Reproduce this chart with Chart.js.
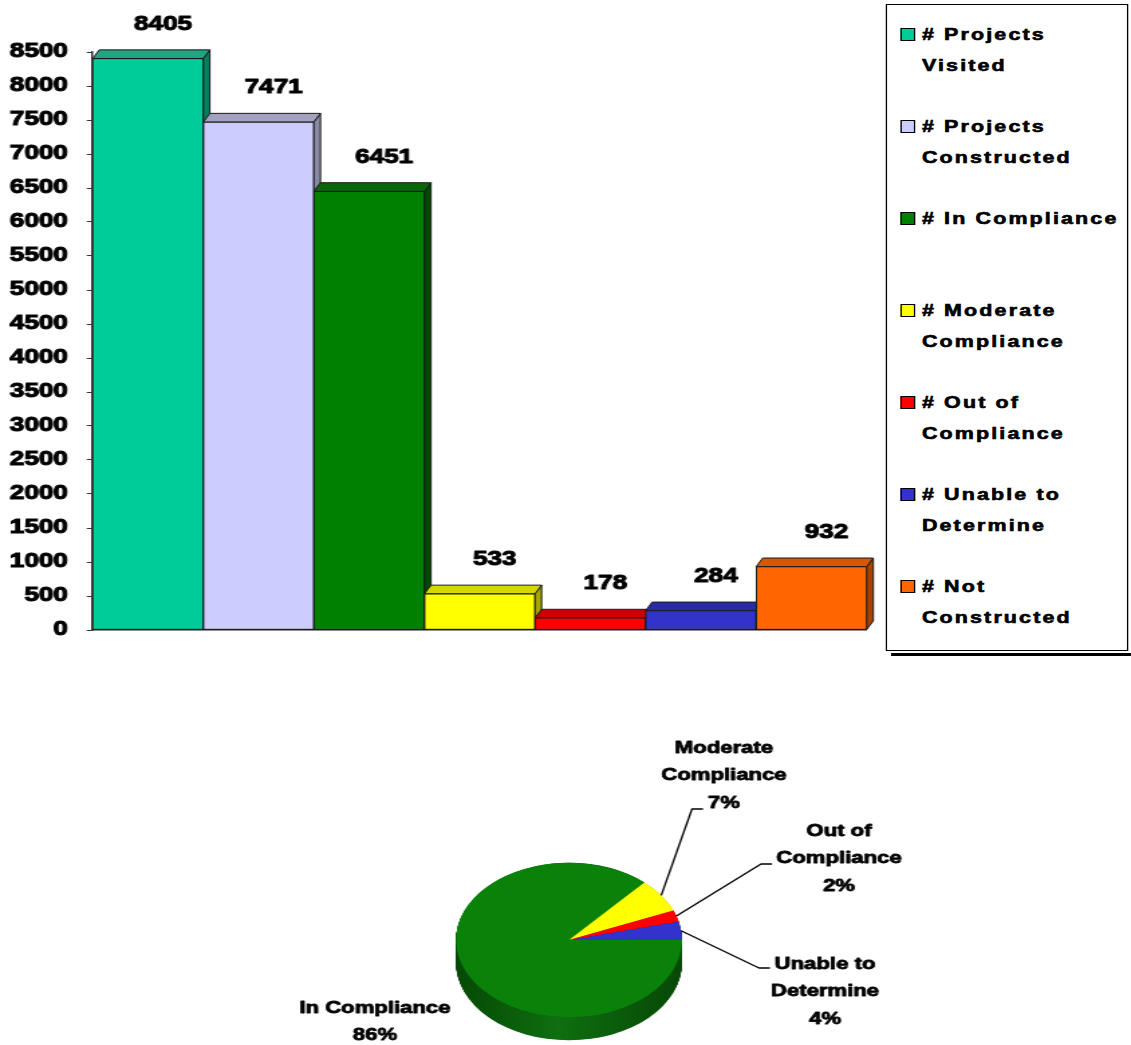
<!DOCTYPE html>
<html>
<head>
<meta charset="utf-8">
<script src="https://cdn.jsdelivr.net/npm/chart.js@4.4.1/dist/chart.umd.min.js"></script>
<style>
  html, body { margin: 0; padding: 0; background: #fff; overflow: hidden; }
  #page { position: absolute; left: 0; top: 0; width: 844px; height: 1045px; transform: scaleX(1.34); transform-origin: 0 0; }
  #bar { position: absolute; left: 0; top: 0; }
  #pie { position: absolute; left: 0; top: 680px; }
  #legend { position: absolute; left: 661px; top: 4px; width: 181px; height: 647px; border: 1px solid #000; box-sizing: border-box;
            font: bold 16px "Liberation Sans", Arial, sans-serif; letter-spacing: 1.6px; color: #000; background: #fff;
            -webkit-text-stroke: 0.6px #000; }
  #legendShadow { position: absolute; left: 665px; top: 653px; width: 179px; height: 3px; background: #000; }
  .item { position: absolute; left: 0; width: 179px; height: 62px; }
  .sw { position: absolute; left: 10px; top: 9px; width: 9px; height: 11px; border: 1px solid #000; -webkit-text-stroke: 0; }
  .txt { position: absolute; left: 26px; top: 0; width: 153px; line-height: 31px; white-space: normal; }
</style>
</head>
<body>
<div id="page">
  <canvas id="bar" width="660" height="660"></canvas>
  <div id="legendShadow"></div>
  <div id="legend"></div>
  <canvas id="pie" width="844" height="365"></canvas>
</div>
<script>
// ---------------- data ----------------
const categories = ['# Projects Visited', '# Projects Constructed', '# In Compliance', '# Moderate Compliance',
                    '# Out of Compliance', '# Unable to Determine', '# Not Constructed'];
const barValues = [8405, 7471, 6451, 533, 178, 284, 932];
const yTickValues = [0, 500, 1000, 1500, 2000, 2500, 3000, 3500, 4000, 4500, 5000, 5500, 6000, 6500, 7000, 7500, 8000, 8500];

const pieCategories = ['In Compliance', 'Moderate\nCompliance', 'Out of\nCompliance', 'Unable to\nDetermine'];
const pieValues = [6451, 533, 178, 284];
const percentBase = barValues[1]; // percentages are of # Projects Constructed

// ---------------- styles ----------------
const S = 1.34;           // horizontal stretch of the whole picture
const FONT = '"Liberation Sans", Arial, sans-serif';
const frontColors = ['#00CC99', '#CCCCFF', '#008000', '#FFFF00', '#FF0000', '#3333CC', '#FF6600'];
const topColors   = ['#22a582', '#a2a2c0', '#0a660a', '#d6d600', '#cc0000', '#2a2aa6', '#d65800'];
const sideColors  = ['#00805f', '#8a8aa8', '#004a00', '#a8a800', '#990000', '#1e1e80', '#a84400'];
const DX = 4.9, DY = 8.6;  // 3D depth of the columns

const pieColors = ['#0a820a', '#FFFF00', '#FF0000', '#3333CC'];
const pieSideColors = ['#0a5c0a', '#a8a800', '#990000', '#1e1e80'];
const K = 0.917;          // vertical tilt of the pie
const THICK = 23;         // pie thickness (px)
// label placement relative to the pie centre (page px): text centre x, first line y, leader end
const pieLabelLayout = [
  { tx: -194, ty: 68, lead: null },
  { tx: 155, ty: -192, lead: [134, -131] },
  { tx: 270, ty: -109, lead: [203, -76] },
  { tx: 256, ty: 24, lead: [201, 28] }
];

// ---------------- legend (HTML) ----------------
const legend = document.getElementById('legend');
categories.forEach((c, i) => {
  const it = document.createElement('div');
  it.className = 'item';
  it.style.top = (13.5 + 92 * i) + 'px';
  const sw = document.createElement('div');
  sw.className = 'sw';
  sw.style.background = frontColors[i];
  const tx = document.createElement('div');
  tx.className = 'txt';
  tx.textContent = c;
  it.appendChild(sw); it.appendChild(tx);
  legend.appendChild(it);
});

// ---------------- bar chart ----------------
const bar3d = {
  id: 'bar3d',
  beforeDatasetsDraw(chart) {
    const ctx = chart.ctx;
    chart.getDatasetMeta(0).data.forEach((bar, i) => {
      const p = bar.getProps(['x', 'y', 'base', 'width'], true);
      const L = p.x - p.width / 2, R = p.x + p.width / 2, T = p.y, B = p.base;
      ctx.save();
      ctx.lineWidth = 1;
      ctx.strokeStyle = '#1a1a1a';
      ctx.beginPath();
      ctx.moveTo(R, T); ctx.lineTo(R + DX, T - DY); ctx.lineTo(R + DX, B - DY); ctx.lineTo(R, B); ctx.closePath();
      ctx.fillStyle = sideColors[i]; ctx.fill(); ctx.stroke();
      ctx.beginPath();
      ctx.moveTo(L, T); ctx.lineTo(L + DX, T - DY); ctx.lineTo(R + DX, T - DY); ctx.lineTo(R, T); ctx.closePath();
      ctx.fillStyle = topColors[i]; ctx.fill(); ctx.stroke();
      ctx.restore();
    });
  },
  afterDatasetsDraw(chart) {
    const ctx = chart.ctx;
    ctx.save();
    ctx.font = 'bold 19.5px ' + FONT;
    ctx.fillStyle = '#000';
    ctx.strokeStyle = '#000';
    ctx.lineWidth = 1;
    ctx.lineJoin = 'round';
    ctx.textAlign = 'center';
    ctx.textBaseline = 'middle';
    chart.getDatasetMeta(0).data.forEach((bar, i) => {
      const p = bar.getProps(['x', 'y'], true);
      const lx = p.x + 15 / S, ly = p.y - 34;
      ctx.strokeText(String(barValues[i]), lx, ly);
      ctx.fillText(String(barValues[i]), lx, ly);
    });
    ctx.restore();
  }
};

new Chart(document.getElementById('bar'), {
  type: 'bar',
  data: {
    labels: categories,
    datasets: [{
      data: barValues,
      backgroundColor: frontColors,
      borderColor: '#1a1a1a',
      borderWidth: 1,
      borderSkipped: false,
      barPercentage: 1,
      categoryPercentage: 1
    }]
  },
  options: {
    responsive: false,
    animation: false,
    events: [],
    layout: { padding: { left: 0, right: 13.2, top: 52, bottom: 30 } },
    plugins: { legend: { display: false }, tooltip: { enabled: false } },
    scales: {
      x: {
        grid: { display: false },
        ticks: { display: false },
        border: { display: true, color: '#222', width: 1.5 },
        afterFit(axis) { axis.height = 0; }
      },
      y: {
        min: 0, max: 8500,
        afterBuildTicks(axis) { axis.ticks = yTickValues.map(v => ({ value: v })); },
        ticks: {
          callback: v => String(v),
          color: '#000',
          padding: 14,
          textStrokeColor: '#000',
          textStrokeWidth: 1,
          font: { family: FONT, size: 19.5, weight: 'bold' }
        },
        grid: { display: true, drawOnChartArea: false, drawTicks: true, tickLength: 4.5, color: '#333' },
        border: { display: true, color: '#333', width: 1.5 },
        afterFit(axis) { axis.width = 69.2; }
      }
    }
  },
  plugins: [bar3d]
});

// ---------------- pie chart ----------------
const pie3d = {
  id: 'pie3d',
  beforeDatasetsDraw(chart) {
    const ctx = chart.ctx;
    const arcs = chart.getDatasetMeta(0).data;
    const cx = arcs[0].x, cy = arcs[0].y, r = arcs[0].outerRadius;
    ctx.save();
    ctx.translate(cx, cy); ctx.scale(1, K); ctx.translate(-cx, -cy);
    const T = THICK / K;
    const g = ctx.createLinearGradient(cx - r, 0, cx + r, 0);
    g.addColorStop(0, '#064806'); g.addColorStop(0.45, '#0f6f0f'); g.addColorStop(1, '#064806');
    for (let t = T; t > 0; t -= 0.5) {
      arcs.forEach((a, i) => {
        ctx.beginPath();
        ctx.moveTo(cx, cy + t);
        ctx.arc(cx, cy + t, r, a.startAngle, a.endAngle);
        ctx.closePath();
        ctx.fillStyle = i === 0 ? g : pieSideColors[i];
        ctx.fill();
      });
    }
  },
  afterDatasetsDraw(chart) {
    const ctx = chart.ctx;
    ctx.restore();
    const arcs = chart.getDatasetMeta(0).data;
    const cx = arcs[0].x, cy = arcs[0].y, r = arcs[0].outerRadius;
    ctx.save();
    ctx.font = 'bold 16.5px ' + FONT;
    ctx.fillStyle = '#000';
    ctx.strokeStyle = '#000';
    ctx.lineJoin = 'round';
    ctx.textAlign = 'center';
    ctx.textBaseline = 'middle';
    arcs.forEach((a, i) => {
      const lay = pieLabelLayout[i];
      const pct = Math.round(pieValues[i] / percentBase * 100) + '%';
      const lines = pieCategories[i].split('\n').concat([pct]);
      ctx.lineWidth = 0.8;
      lines.forEach((ln, j) => {
        const x = cx + lay.tx / S, y = cy + lay.ty + j * 27.5;
        ctx.strokeText(ln, x, y);
        ctx.fillText(ln, x, y);
      });
      if (lay.lead) {
        const mid = (a.startAngle + a.endAngle) / 2;
        const ex = cx + r * Math.cos(mid), ey = cy + r * K * Math.sin(mid);
        const endX = cx + lay.lead[0] / S, endY = cy + lay.lead[1];
        ctx.lineWidth = 1.3;
        ctx.beginPath();
        ctx.moveTo(ex, ey);
        ctx.lineTo(endX - 11 / S, endY);
        ctx.lineTo(endX, endY);
        ctx.stroke();
      }
    });
    ctx.restore();
  }
};

new Chart(document.getElementById('pie'), {
  type: 'pie',
  data: {
    labels: pieCategories,
    datasets: [{ data: pieValues, backgroundColor: pieColors, borderWidth: 0, hoverOffset: 0 }]
  },
  options: {
    responsive: false,
    animation: false,
    events: [],
    rotation: 90,
    layout: { padding: { left: 340.3, right: 335.1, top: 175.7, bottom: 20.7 } },
    plugins: { legend: { display: false }, tooltip: { enabled: false } }
  },
  plugins: [pie3d]
});
</script>
</body>
</html>
